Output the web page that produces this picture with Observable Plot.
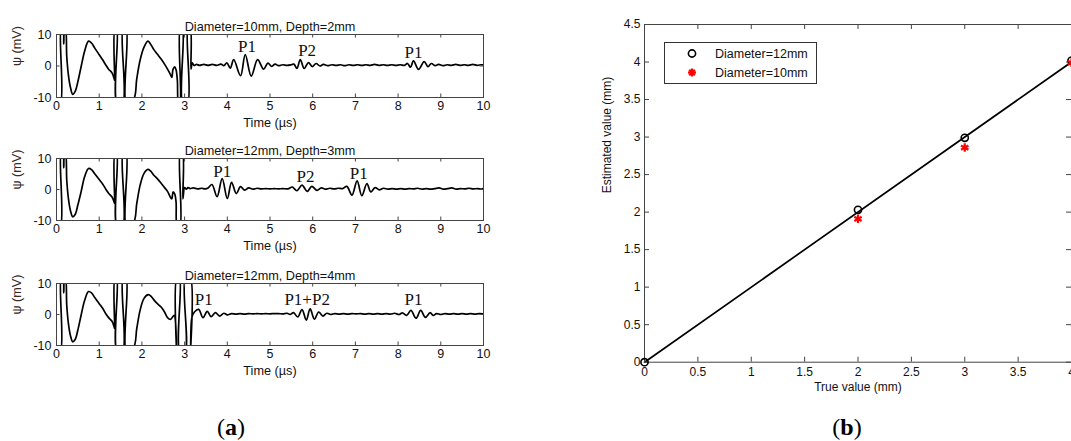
<!DOCTYPE html>
<html><head><meta charset="utf-8">
<script src="https://cdn.jsdelivr.net/npm/d3@7"></script>
<script src="https://cdn.jsdelivr.net/npm/@observablehq/plot@0.6"></script>
<style>
body{margin:0;background:#fff;}
#root{position:relative;width:1071px;height:441px;overflow:hidden;background:#fff;font-family:"Liberation Sans",Arial,sans-serif;}
.pan{position:absolute;}
.pan svg{overflow:visible;}
.cap{position:absolute;font-family:"Liberation Serif","Times New Roman",serif;font-weight:normal;font-size:24px;color:#000;transform:translate(-50%,-50%);white-space:nowrap;}
#legend{position:absolute;left:664px;top:42px;width:151px;height:40px;border:1px solid #333;background:#fff;font-size:12.5px;color:#111;}
</style></head><body><div id="root"></div>
<script>
// ---------- data ----------
const timeTicks = [0,1,2,3,4,5,6,7,8,9,10];
const psiTicks = [-10,0,10];
const panelTitles = ["Diameter=10mm, Depth=2mm","Diameter=12mm, Depth=3mm","Diameter=12mm, Depth=4mm"];

// waveform samples [time µs, ψ mV] (values beyond ±10 are clipped)
const wave1 = [[0,-12],[0.09,-12],[0.11,12],[0.15,12],[0.17,7],[0.19,12],[0.21,12],[0.24,3],[0.28,-3],[0.33,-7],[0.38,-9],[0.44,-8],[0.5,-5],[0.58,0],[0.66,4.8],[0.75,7.9],[0.82,7.3],[0.9,5.6],[1.0,3.6],[1.08,2],[1.15,0.4],[1.22,-1],[1.3,-2.2],[1.35,-4],[1.36,-4.5],[1.37,12],[1.41,12],[1.42,-12],[1.55,-12],[1.56,12],[1.63,12],[1.64,-12],[1.81,-10.5],[1.88,-4],[1.96,2],[2.05,6],[2.14,7.9],[2.2,7],[2.28,5.2],[2.36,3.8],[2.45,2.2],[2.53,0.6],[2.6,-1],[2.66,-2.5],[2.7,-3.6],[2.73,-1],[2.77,-0.3],[2.8,-1.2],[2.83,-4.5],[2.86,-12],[2.89,-12],[2.9,12],[2.95,12],[2.96,-12],[3.07,-12],[3.08,12],[3.13,12],[3.15,-1],[3.18,1.0],[3.22,0.2],[3.28,0.5],[3.35,0.2],[3.45,0.5],[3.55,0.2],[3.65,0.5],[3.75,0.2],[3.85,0.6],[3.92,0.1],[3.99,1.0],[4.07,-0.7],[4.15,2.0],[4.31,-3.1],[4.42,3.6],[4.56,-3.2],[4.71,2.0],[4.85,-1.0],[4.95,0.9],[5.04,-0.1],[5.12,0.6],[5.2,0.1],[5.3,0.4],[5.4,0.2],[5.5,0.4],[5.56,0.6],[5.63,-0.8],[5.71,2.0],[5.8,-0.8],[5.9,1.1],[5.99,-0.2],[6.08,0.8],[6.17,0],[6.25,0.5],[6.35,0.1],[6.45,0.4],[6.55,0.2],[6.65,0.4],[6.75,0.1],[6.85,0.4],[6.95,0.2],[7.05,0.4],[7.15,0.2],[7.25,0.4],[7.35,0.2],[7.45,0.5],[7.55,0.2],[7.65,0.4],[7.75,0.2],[7.85,0.4],[7.95,0.2],[8.05,0.4],[8.15,0.2],[8.22,0.8],[8.29,-0.4],[8.36,1.6],[8.48,-1.1],[8.61,1.4],[8.7,-0.2],[8.78,0.8],[8.87,0.1],[8.95,0.5],[9.05,0.1],[9.15,0.4],[9.25,0.2],[9.35,0.5],[9.45,0.2],[9.55,0.4],[9.65,0.2],[9.75,0.5],[9.85,0.2],[9.95,0.4],[10,0.3]];

const wave2 = [[0,-12],[0.09,-12],[0.11,12],[0.15,12],[0.17,7],[0.19,12],[0.21,12],[0.24,3],[0.28,-3],[0.33,-7],[0.38,-8.8],[0.44,-8],[0.5,-5],[0.58,-0.5],[0.66,4.2],[0.75,6.8],[0.82,6.4],[0.9,5],[1.0,3.2],[1.08,1.8],[1.15,0.2],[1.22,-1.2],[1.3,-2.4],[1.35,-4],[1.36,-4.5],[1.37,12],[1.41,12],[1.42,-12],[1.55,-12],[1.56,12],[1.63,12],[1.64,-12],[1.81,-10.5],[1.88,-4.5],[1.96,1.5],[2.05,5.2],[2.14,6.5],[2.2,6],[2.28,4.6],[2.36,3.5],[2.45,2],[2.53,0.6],[2.6,-0.6],[2.66,-2.3],[2.7,-3],[2.73,-0.8],[2.77,-1.5],[2.8,-4],[2.83,-12],[2.89,-12],[2.9,12],[2.95,12],[2.96,-3],[3.0,0.6],[3.04,0.1],[3.08,0.6],[3.13,0.3],[3.2,0.5],[3.3,0.2],[3.4,0.4],[3.48,0.2],[3.55,0.5],[3.64,1.6],[3.76,-2.3],[3.88,3.5],[4.0,-2.9],[4.1,2.3],[4.21,-1.3],[4.31,0.9],[4.4,-0.2],[4.5,0.5],[4.6,0.1],[4.7,0.4],[4.8,0.2],[4.9,0.3],[5.0,0.2],[5.1,0.3],[5.2,0.2],[5.3,0.3],[5.42,0.2],[5.52,0.8],[5.63,-0.4],[5.75,1.4],[5.87,-0.6],[5.98,1.0],[6.1,-0.3],[6.2,0.5],[6.3,0.1],[6.4,0.4],[6.5,0.2],[6.6,0.4],[6.7,0.3],[6.8,1.0],[6.92,-1.8],[7.04,2.8],[7.15,-2.0],[7.27,1.9],[7.36,-0.8],[7.46,0.6],[7.56,-0.1],[7.66,0.4],[7.76,0.1],[7.86,0.3],[7.96,0.1],[8.06,0.3],[8.16,0.1],[8.26,0.3],[8.36,0.2],[8.46,0.4],[8.56,0.1],[8.66,0.3],[8.76,0.1],[8.86,0.3],[8.96,0.5],[9.06,0.1],[9.16,0.3],[9.26,0.5],[9.36,0.1],[9.46,0.3],[9.56,0.2],[9.66,0.4],[9.76,0.2],[9.86,0.3],[9.96,0.1],[10,0.3]];

const wave3 = [[0,-12],[0.09,-12],[0.11,12],[0.15,12],[0.17,7],[0.19,12],[0.21,12],[0.24,3],[0.28,-3],[0.33,-7],[0.38,-8.8],[0.44,-8],[0.5,-5],[0.58,0],[0.66,4.6],[0.75,7.4],[0.82,7],[0.9,5.4],[1.0,3.5],[1.08,2],[1.15,0.3],[1.22,-1],[1.3,-2.2],[1.35,-4],[1.36,-4.5],[1.37,12],[1.41,12],[1.42,-12],[1.55,-12],[1.56,12],[1.63,12],[1.64,-12],[1.81,-10.5],[1.88,-4.5],[1.96,1.5],[2.05,5.2],[2.15,6.4],[2.22,5.8],[2.3,4.4],[2.38,3.3],[2.45,2.4],[2.53,0.8],[2.6,-1.0],[2.67,-1.6],[2.73,-0.6],[2.76,-0.3],[2.79,-2.9],[2.81,-12],[2.82,12],[2.88,12],[2.89,-12],[3.01,-12],[3.02,12],[3.13,12],[3.14,-12],[3.17,-1],[3.23,0.8],[3.33,1.65],[3.43,-1.0],[3.53,1.0],[3.62,-0.7],[3.72,0.6],[3.82,-0.5],[3.92,0.4],[4.0,-0.1],[4.1,0.3],[4.2,0.1],[4.3,0.3],[4.4,0.1],[4.5,0.3],[4.6,0.2],[4.7,0.3],[4.8,0.2],[4.9,0.3],[5.0,0.2],[5.1,0.3],[5.2,0.3],[5.3,0.2],[5.4,0.4],[5.47,0.0],[5.55,0.6],[5.65,-0.8],[5.75,1.6],[5.85,-1.8],[5.94,1.8],[6.04,-1.5],[6.14,0.8],[6.24,-0.5],[6.33,0.4],[6.42,0.0],[6.52,0.3],[6.62,0.1],[6.72,0.3],[6.82,0.1],[6.92,0.3],[7.02,0.2],[7.12,0.3],[7.22,0.1],[7.32,0.3],[7.42,0.1],[7.52,0.3],[7.62,0.1],[7.72,0.3],[7.82,0.1],[7.92,0.4],[8.02,0.0],[8.1,0.5],[8.2,-0.3],[8.3,1.3],[8.42,-1.2],[8.53,1.3],[8.64,-0.9],[8.75,0.6],[8.82,-0.3],[8.9,0.3],[9.0,0.0],[9.1,0.3],[9.2,0.1],[9.3,0.3],[9.4,0.1],[9.5,0.3],[9.6,0.1],[9.7,0.3],[9.8,0.1],[9.9,0.3],[10,0.2]];

// echo annotations [label, time µs, ψ mV]
const echo1 = [["P1",4.46,6.3],["P2",5.87,5.0],["P1",8.36,4.4]];
const echo2 = [["P1",3.88,5.8],["P2",5.83,4.2],["P1",7.08,5.3]];
const echo3 = [["P1",3.45,4.7],["P1+P2",5.87,4.7],["P1",8.36,4.7]];

// panel (b)
const trueTicks = [0,0.5,1,1.5,2,2.5,3,3.5,4];
const estTicks = [0,0.5,1,1.5,2,2.5,3,3.5,4,4.5];
const true12 = [0,2,3,4];
const est12 = [0,2.03,2.99,4.02];
const true10 = [2,3,4];
const est10 = [1.91,2.86,3.99];
const fitTrue = [0,4];
const fitEst = [0,4];
const legendLabels = ["Diameter=12mm","Diameter=10mm"];

// ---------- drawing ----------
const root = document.getElementById("root");
const SANS = "Liberation Sans, Arial, sans-serif";
const SERIF = "Liberation Serif, Times New Roman, serif";
const fmt = d => String(d);

function place(el, left, top) {
  const d = document.createElement("div");
  d.className = "pan";
  d.style.left = left + "px";
  d.style.top = top + "px";
  d.appendChild(el);
  root.appendChild(d);
}

function wavePanel(wave, echoes, title, top, mTop, fh, mBottom) {
  const W = 500, ml = 56, mr = 17, fw = W - ml - mr;
  const data = wave.map(([t, v]) => ({t, v}));
  const ann = echoes.map(([s, t, v]) => ({s, t, v}));
  const svg = Plot.plot({
    width: W, height: mTop + fh + mBottom,
    marginLeft: ml, marginRight: mr, marginTop: mTop, marginBottom: mBottom,
    x: {domain: [0, 10], label: null},
    y: {domain: [-10, 10], label: null},
    style: {fontFamily: SANS, fontSize: "12.5px", color: "#111", background: "transparent", overflow: "visible"},
    marks: [
      Plot.line(data, {x: "t", y: "v", stroke: "#000", strokeWidth: 1.7, clip: true, curve: "catmull-rom"}),
      Plot.frame({stroke: "#444", strokeWidth: 1}),
      Plot.tickX(timeTicks, {x: d => d, insetTop: fh - 3.5, stroke: "#444"}),
      Plot.tickX(timeTicks, {x: d => d, insetBottom: fh - 3.5, stroke: "#444"}),
      Plot.tickY(psiTicks, {y: d => d, insetRight: fw - 3.5, stroke: "#444"}),
      Plot.tickY(psiTicks, {y: d => d, insetLeft: fw - 3.5, stroke: "#444"}),
      Plot.axisX(timeTicks, {tickSize: 0, tickPadding: 4, label: null, fontSize: 12.5, tickFormat: fmt}),
      Plot.axisY(psiTicks, {tickSize: 0, tickPadding: 5, label: null, fontSize: 12.5, tickFormat: fmt}),
      Plot.text(ann, {x: "t", y: "v", text: "s", fontFamily: SERIF, fontSize: 17, fill: "#111"}),
      Plot.text([title], {frameAnchor: "top", dy: -13, text: d => d, fontSize: 12.7}),
      Plot.text(["Time (µs)"], {frameAnchor: "bottom", dy: 29, text: d => d, fontSize: 12.7}),
      Plot.text(["ψ (mV)"], {frameAnchor: "left", dx: -40, rotate: -90, text: d => d, fontSize: 12.7, fill: "#3a2a22"})
    ]
  });
  place(svg, 0, top);
}

wavePanel(wave1, echo1, panelTitles[0], 0, 34, 63, 38);
wavePanel(wave2, echo2, panelTitles[1], 125, 33, 62, 38);
wavePanel(wave3, echo3, panelTitles[2], 250, 33, 62, 45);

// panel (b)
(function () {
  const W = 481, ml = 54, mr = 0, mt = 24, fh = 337.7, mb = 38.3, fw = W - ml - mr;
  const d12 = true12.map((x, i) => ({x, y: est12[i]}));
  const d10 = true10.map((x, i) => ({x, y: est10[i]}));
  const fit = fitTrue.map((x, i) => ({x, y: fitEst[i]}));
  const svg = Plot.plot({
    width: W, height: mt + fh + mb,
    marginLeft: ml, marginRight: mr, marginTop: mt, marginBottom: mb,
    x: {domain: [0, 4], label: null},
    y: {domain: [0, 4.5], label: null},
    style: {fontFamily: SANS, fontSize: "12px", color: "#111", background: "transparent", overflow: "visible"},
    marks: [
      Plot.line(fit, {x: "x", y: "y", stroke: "#000", strokeWidth: 1.7}),
      Plot.frame({stroke: "#444", strokeWidth: 1}),
      Plot.tickX(trueTicks, {x: d => d, insetTop: fh - 5, stroke: "#444"}),
      Plot.tickX(trueTicks, {x: d => d, insetBottom: fh - 5, stroke: "#444"}),
      Plot.tickY(estTicks, {y: d => d, insetRight: fw - 5, stroke: "#444"}),
      Plot.tickY(estTicks, {y: d => d, insetLeft: fw - 5, stroke: "#444"}),
      Plot.dot(d12, {x: "x", y: "y", r: 3.6, stroke: "#000", strokeWidth: 1.6, fill: "none"}),
      Plot.dot(d10, {x: "x", y: "y", symbol: "asterisk", r: 4, stroke: "#ff0000", strokeWidth: 2.2}),
      Plot.axisX(trueTicks, {tickSize: 0, tickPadding: 5, label: null, fontSize: 12, tickFormat: fmt}),
      Plot.axisY(estTicks, {tickSize: 0, tickPadding: 4, label: null, fontSize: 12, tickFormat: fmt}),
      Plot.text(["True value (mm)"], {frameAnchor: "bottom", dy: 28.5, text: d => d, fontSize: 12}),
      Plot.text(["Estimated value (mm)"], {frameAnchor: "left", dx: -37, rotate: -90, text: d => d, fontSize: 12})
    ]
  });
  place(svg, 590, 0);
})();

// legend
const lg = document.createElement("div");
lg.id = "legend";
lg.innerHTML = `
<svg width="151" height="40" style="position:absolute;left:0;top:0">
  <circle cx="27" cy="10.5" r="3.6" fill="none" stroke="#000" stroke-width="1.6"/>
  <g stroke="#f00" stroke-width="2.2" stroke-linecap="butt">
    <line x1="27" y1="25.5" x2="27" y2="33.5"/>
    <line x1="23" y1="29.5" x2="31" y2="29.5"/>
    <line x1="24.2" y1="26.7" x2="29.8" y2="32.3"/>
    <line x1="29.8" y1="26.7" x2="24.2" y2="32.3"/>
  </g>
  <text x="50" y="15" font-family="${SANS}" font-size="12.5" fill="#111">${legendLabels[0]}</text>
  <text x="50" y="34" font-family="${SANS}" font-size="12.5" fill="#111">${legendLabels[1]}</text>
</svg>`;
root.appendChild(lg);

// captions
[["(a)", 231, 427], ["(b)", 847, 427]].forEach(([s, x, y]) => {
  const c = document.createElement("div");
  c.className = "cap";
  c.style.left = x + "px";
  c.style.top = y + "px";
  c.innerHTML = s.replace(/([ab])/, '<span style="font-weight:bold">$1</span>');
  root.appendChild(c);
});
</script></body></html>
